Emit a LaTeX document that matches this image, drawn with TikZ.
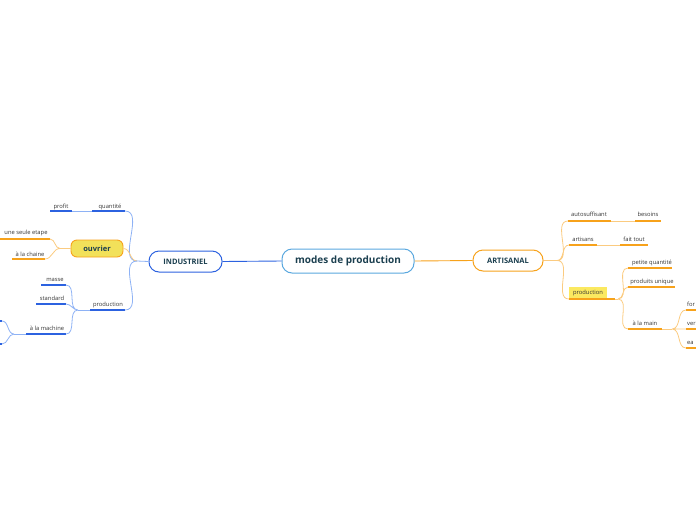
\documentclass[tikz,border=0pt]{standalone}
\usepackage{fontspec}
\setmainfont{Open Sans}
\definecolor{bl}{HTML}{2C62E0}
\definecolor{bll}{HTML}{8EB2F5}
\definecolor{cb}{HTML}{5AA8DF}
\definecolor{or}{HTML}{F7A21B}
\definecolor{orl}{HTML}{FBCB80}
\definecolor{tx}{HTML}{1B3F4F}
\definecolor{yl}{HTML}{F2E15A}
\definecolor{yh}{HTML}{FBE960}
\begin{document}
\begin{tikzpicture}[x=1pt,y=-1pt,
 lab/.style={font=\fontsize{5.8}{6}\selectfont, text=black!80, inner sep=0pt, anchor=base},
 ulb/.style={draw=bl, line width=1.4pt},
 ulo/.style={draw=or, line width=1.4pt},
 cb/.style={draw=bll, line width=0.8pt},
 co/.style={draw=orl, line width=0.8pt},
 big/.style={rounded corners=10pt, line width=1pt, fill=white, text=tx, font=\bfseries\fontsize{7.5}{8}\selectfont, inner sep=0pt}]
\useasboundingbox (0,0) rectangle (696,520);
% main nodes
\node[big, draw=cb, minimum width=132pt, minimum height=24pt, font=\bfseries\fontsize{10}{11}\selectfont] (c) at (348,261) {modes de production};
\node[big, draw=bl, minimum width=73pt, minimum height=21pt] (ind) at (185.5,261.5) {INDUSTRIEL};
\node[big, draw=or, minimum width=70pt, minimum height=21pt] (art) at (508,260.5) {ARTISANAL};
\draw[bl, line width=0.9pt] (c.west) -- (ind.east);
\draw[or, line width=0.9pt] (c.east) -- (art.west);
% ---- industriel
\coordinate (ij) at (137,261);
\draw[cb] (ind.west) -- (ij);
\coordinate (qa) at (92,211); \coordinate (qb) at (125,211);
\draw[ulb] (qa) -- (qb); \node[lab] (qt) at (110,208) {quantité};
\coordinate (pa) at (50,211); \coordinate (pb) at (72,211);
\draw[ulb] (pa) -- (pb); \node[lab] (pt) at (61,208) {profit};
\draw[cb] (qa) -- (pb);
\draw[cb] (ij) to[out=180,in=0] (qb);
\node[rounded corners=6pt, draw=or, fill=yl, line width=0.9pt, minimum width=52pt, minimum height=17pt, inner sep=0pt, font=\bfseries\fontsize{7.5}{8}\selectfont, text=tx] (ouv) at (97,248.5) {ouvrier};
\draw[co] (ij) to[out=180,in=0] (ouv.east);
\coordinate (ua) at (0,239); \coordinate (ub) at (50,239);
\draw[ulo] (ua) -- (ub); \node[lab] (ut) at (26,234) {une seule etape};
\coordinate (ca) at (12,259); \coordinate (cc) at (45,259);
\draw[ulo] (ca) -- (cc); \node[lab] (ct) at (30,256) {à la chaine};
\coordinate (oj) at (60,248.5);
\draw[co] (ouv.west) -- (oj);
\draw[co] (oj) to[out=180,in=0] (ub) (oj) to[out=180,in=0] (cc);
\coordinate (da) at (90,310); \coordinate (db) at (125,310);
\draw[ulb] (da) -- (db); \node[lab] (dt) at (108,306) {production};
\draw[cb] (ij) to[out=180,in=0] (db);
\coordinate (dj) at (78,310);
\draw[cb] (da) -- (dj);
\coordinate (ma) at (41,285); \coordinate (mb) at (66,285);
\draw[ulb] (ma) -- (mb); \node[lab] (mt) at (55,281) {masse};
\coordinate (sa) at (36,304); \coordinate (sb) at (66,304);
\draw[ulb] (sa) -- (sb); \node[lab] (st) at (52,300) {standard};
\coordinate (aa) at (26,334); \coordinate (ab) at (66,334);
\draw[ulb] (aa) -- (ab); \node[lab] (at) at (47,330) {à la machine};
\draw[cb] (dj) to[out=180,in=0] (mb) (dj) to[out=180,in=0] (sb) (dj) to[out=180,in=0] (ab);
\coordinate (aj) at (14,334);
\draw[cb] (aa) -- (aj);
\coordinate (x1) at (2,321); \coordinate (x2) at (2,344);
\draw[ulb] (0,321) -- (x1); \draw[ulb] (0,344) -- (x2);
\draw[cb] (aj) to[out=180,in=0] (x1) (aj) to[out=180,in=0] (x2);
% ---- artisanal
\coordinate (aj2) at (557,260.5);
\draw[co] (art.east) -- (aj2);
\coordinate (ta) at (568,221); \coordinate (tb) at (611,221);
\draw[ulo] (ta) -- (tb); \node[lab] (tt) at (589,216) {autosuffisant};
\coordinate (ba) at (635,221); \coordinate (bb) at (661,221);
\draw[ulo] (ba) -- (bb); \node[lab] (bt) at (648,216) {besoins};
\draw[co] (tb) -- (ba);
\coordinate (ra) at (569,245); \coordinate (rb) at (597,245);
\draw[ulo] (ra) -- (rb); \node[lab] (rt) at (583,241) {artisans};
\coordinate (fa) at (620,245); \coordinate (fb) at (648,245);
\draw[ulo] (fa) -- (fb); \node[lab] (ft) at (634,241) {fait tout};
\draw[co] (rb) -- (fa);
\node[fill=yh, minimum width=38pt, minimum height=12pt, inner sep=0pt, font=\fontsize{5.8}{6}\selectfont, text=black!80] (pr) at (588,292.5) {production};
\coordinate (pra) at (569,299); \coordinate (prb) at (615,299);
\draw[ulo] (pra) -- (prb);
\draw[co] (aj2) to[out=0,in=180] (ta) (aj2) to[out=0,in=180] (ra) (aj2) to[out=0,in=180] (pra);
\coordinate (pj) at (618,299);
\coordinate (qqa) at (628,268); \coordinate (qqb) at (672,268);
\draw[ulo] (qqa) -- (qqb); \node[lab] (qqt) at (652,264) {petite quantité};
\coordinate (pua) at (628,287); \coordinate (pub) at (675,287);
\draw[ulo] (pua) -- (pub); \node[lab] (put) at (652,283) {produits unique};
\coordinate (hma) at (628,329); \coordinate (hmb) at (662,329);
\draw[ulo] (hma) -- (hmb); \node[lab] (hmt) at (645,325) {à la main};
\draw[co] (prb) -- (pj);
\draw[co] (pj) to[out=0,in=180] (qqa) (pj) to[out=0,in=180] (pua) (pj) to[out=0,in=180] (hma);
\coordinate (hj) at (672,329);
\draw[co] (hmb) -- (hj);
\coordinate (y1) at (686,310); \coordinate (y2) at (686,329); \coordinate (y3) at (686,348);
\draw[ulo] (y1) -- (696,310); \draw[ulo] (y2) -- (696,329); \draw[ulo] (y3) -- (696,348);
\node[lab, anchor=base west] (y1t) at (687,306) {for};
\node[lab, anchor=base west] (y2t) at (687,325) {ver};
\node[lab, anchor=base west] (y3t) at (687,344) {ea};
\draw[co] (hj) to[out=0,in=180] (y1) (hj) -- (y2) (hj) to[out=0,in=180] (y3);
\end{tikzpicture}
\end{document}
